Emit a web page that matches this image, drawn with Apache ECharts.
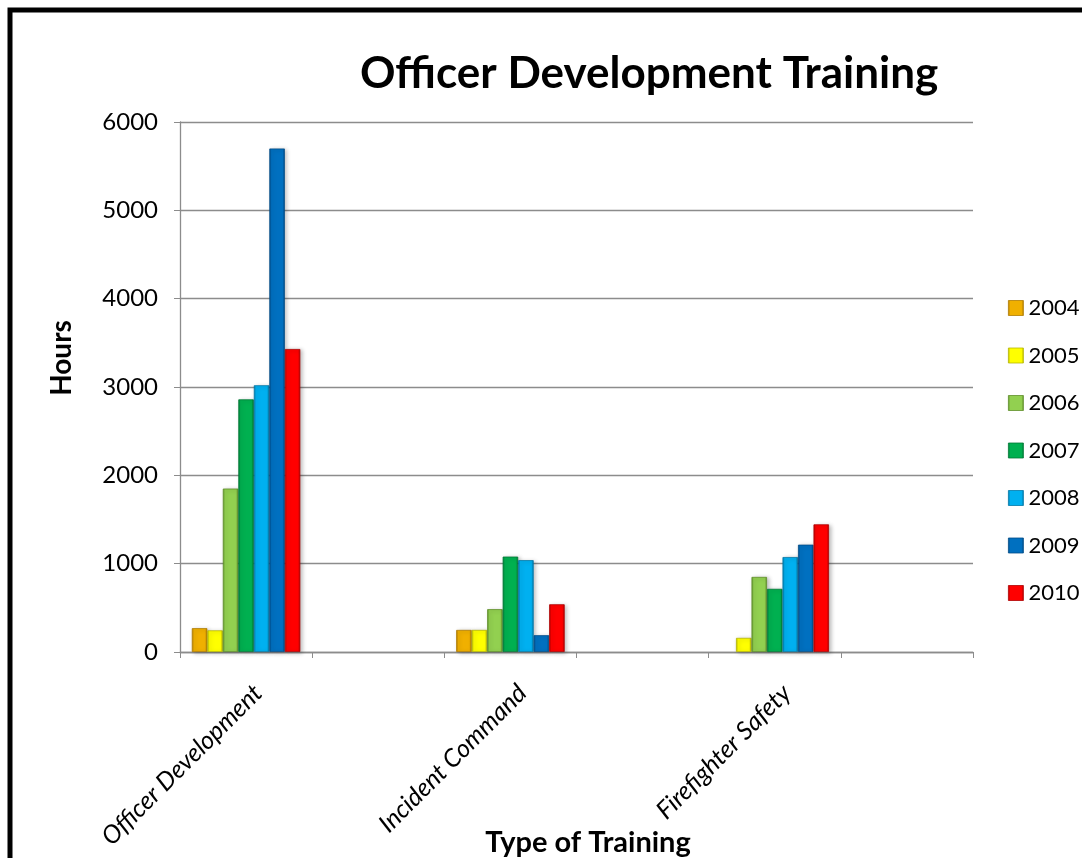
<!DOCTYPE html>
<html>
<head>
<meta charset="utf-8">
<script src="https://cdn.jsdelivr.net/npm/echarts@6/dist/echarts.min.js"></script>
<style>
  html, body { margin: 0; padding: 0; background: #fff; }
  #chart { width: 1082px; height: 858px; }
</style>
</head>
<body>
<div id="chart"></div>
<script>
// categories (empty slots keep the gaps between groups like the original)
var categories = ['Officer Development', '', 'Incident Command', '', 'Firefighter Safety', ''];
var years = ['2004', '2005', '2006', '2007', '2008', '2009', '2010'];
var yTicks = [0, 1000, 2000, 3000, 4000, 5000, 6000];

// hours per year, one value per category slot ('-' = no bar)
var hours2004 = [270, '-', 250, '-', '-', '-'];
var hours2005 = [245, '-', 250, '-', 160, '-'];
var hours2006 = [1850, '-', 485, '-', 850, '-'];
var hours2007 = [2860, '-', 1080, '-', 715, '-'];
var hours2008 = [3020, '-', 1040, '-', 1075, '-'];
var hours2009 = [5700, '-', 190, '-', 1215, '-'];
var hours2010 = [3430, '-', 540, '-', 1445, '-'];

var yearData = [hours2004, hours2005, hours2006, hours2007, hours2008, hours2009, hours2010];
var colors = ['#F0B000', '#FFFF00', '#92D050', '#00B050', '#00B0F0', '#0070C0', '#FF0000'];
var darks = ['#B07C00', '#B8B800', '#5F8F2A', '#007A36', '#0078A8', '#004C88', '#B00000'];

function bevel(c, d) {
  return new echarts.graphic.LinearGradient(0, 0, 1, 0, [
    { offset: 0, color: d },
    { offset: 0.15, color: c },
    { offset: 0.85, color: c },
    { offset: 1, color: d }
  ]);
}

var chart = echarts.init(document.getElementById('chart'));

var series = years.map(function (y, i) {
  return {
    name: y,
    type: 'bar',
    data: yearData[i],
    barWidth: 15.5,
    barGap: '0%',
    itemStyle: {
      color: bevel(colors[i], darks[i]),
      borderColor: darks[i],
      borderWidth: 0.8,
      shadowBlur: 4,
      shadowColor: 'rgba(0,0,0,0.25)',
      shadowOffsetX: 2,
      shadowOffsetY: 1
    }
  };
});

var option = {
  animation: false,
  backgroundColor: '#fff',
  textStyle: { fontFamily: 'Lato' },
  title: {
    text: 'Officer Development Training',
    left: 355,
    top: 47,
    textStyle: { fontFamily: 'Lato', fontSize: 44, fontWeight: 'bold', color: '#000' }
  },
  legend: {
    orient: 'vertical',
    left: 1003,
    top: 292,
    itemWidth: 15,
    itemHeight: 15,
    itemGap: 25.5,
    icon: 'rect',
    data: years.map(function (y, i) {
      return { name: y, itemStyle: { color: bevel(colors[i], darks[i]), borderColor: darks[i], borderWidth: 0.8 } };
    }),
    textStyle: { fontFamily: 'Lato', fontSize: 22, color: '#000', lineHeight: 22 }
  },
  grid: { left: 180, right: 109, top: 122, bottom: 206 },
  xAxis: {
    type: 'category',
    data: categories,
    axisLine: { lineStyle: { color: '#8c8c8c', width: 1.3 } },
    axisTick: { show: true, alignWithLabel: false, length: 6, lineStyle: { color: '#8c8c8c' } },
    axisLabel: {
      rotate: 45,
      interval: 0,
      margin: 25,
      verticalAlign: 'top',
      lineHeight: 34,
      fontFamily: 'Lato',
      fontStyle: 'italic',
      fontSize: 25,
      color: '#000'
    }
  },
  yAxis: {
    type: 'value',
    min: yTicks[0],
    max: yTicks[yTicks.length - 1],
    interval: 1000,
    axisLine: { show: true, lineStyle: { color: '#8c8c8c', width: 1.3 } },
    axisTick: { show: true, length: 6, lineStyle: { color: '#8c8c8c' } },
    axisLabel: { margin: 22, fontFamily: 'Lato', fontSize: 24, color: '#000', formatter: function (v) { return String(v); } },
    splitLine: { lineStyle: { color: '#8c8c8c', width: 1.3 } }
  },
  graphic: [{
    type: 'rect',
    shape: { x: 10, y: 10, width: 1200, height: 1000 },
    style: { fill: 'none', stroke: '#000', lineWidth: 5 },
    z: 100
  }, {
    type: 'text',
    x: 62,
    y: 358,
    rotation: Math.PI / 2,
    style: {
      text: 'Hours',
      fontFamily: 'Lato',
      fontSize: 28,
      fontWeight: 'bold',
      fill: '#000',
      align: 'center',
      verticalAlign: 'middle'
    }
  }, {
    type: 'text',
    x: 588,
    y: 843,
    style: {
      text: 'Type of Training',
      fontFamily: 'Lato',
      fontSize: 29,
      fontWeight: 'bold',
      fill: '#000',
      align: 'center',
      verticalAlign: 'middle'
    }
  }],
  series: series
};

chart.setOption(option);
</script>
</body>
</html>
